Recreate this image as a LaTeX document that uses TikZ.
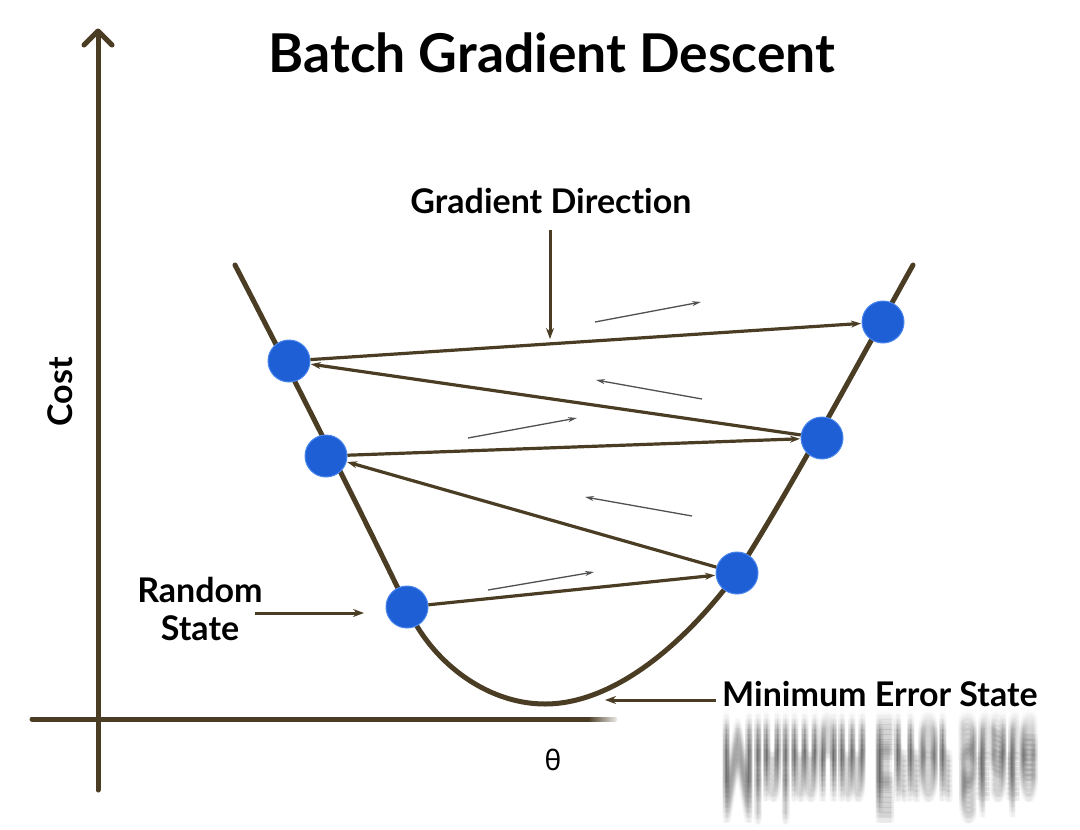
\documentclass[tikz,border=0pt]{standalone}
\usepackage{fontspec}
\setmainfont[Ligatures=NoCommon]{Lato}
\newfontfamily\greekfont{Noto Sans}
\usetikzlibrary{arrows.meta,fadings}
\definecolor{axisc}{HTML}{4A3D24}
\definecolor{dotc}{HTML}{1E5FD6}
\definecolor{dotb}{HTML}{4A86EE}
\definecolor{hintc}{HTML}{505050}
\begin{document}
\begin{tikzpicture}[x=1pt,y=-1pt,
  dot/.style={circle,fill=dotc,draw=dotb,line width=1pt,minimum size=42pt,inner sep=0pt},
  lbl/.style={font=\fontsize{34}{40}\selectfont\bfseries,text=black,inner sep=0pt},
  jump/.style={draw=axisc,line width=3.2pt,-{Stealth[length=10pt,width=7pt]},shorten >=0.5pt},
  hint/.style={draw=hintc,line width=1.3pt,-{Stealth[length=9pt,width=5pt]}},
  pointer/.style={draw=axisc,line width=3pt,-{Stealth[length=11pt,width=8pt]}}
]
\useasboundingbox (0,0) rectangle (1080,830);

% axes
\draw[axisc,line width=5pt,line cap=round] (98,790) -- (98,32);
\draw[axisc,line width=5pt,line cap=round,line join=round] (84,45) -- (98,31) -- (112,45);
\draw[axisc,line width=5pt,line cap=round] (32,719) -- (615,719);
\fill[white,path fading=west] (588,710) rectangle (620,728);

% title and axis labels
\node[font=\fontsize{53.5}{60}\selectfont\bfseries,anchor=base] (title) at (552,72) {Batch Gradient Descent};
\node[lbl,rotate=90] (cost) at (60,392) {Cost};
\node[font=\greekfont\fontsize{28}{32}\selectfont,inner sep=0pt] (theta) at (553,760) {θ};

% cost curve
\draw[axisc,line width=5pt,line cap=round]
  (235,265) .. controls (300,390) and (370,530) .. (407,607)
  .. controls (430,660) and (485,704) .. (545,704)
  .. controls (610,704) and (680,650) .. (737,573)
  .. controls (790,490) and (860,360) .. (913,265);

% states
\node[dot] (A) at (289,361) {};
\node[dot] (B) at (326,456) {};
\node[dot] (C) at (407,607) {};
\node[dot] (D) at (737,573) {};
\node[dot] (E) at (822,438) {};
\node[dot] (F) at (883,322) {};

\draw[jump] (C) -- (D);
\draw[jump] (D) -- (B);
\draw[jump] (B) -- (E);
\draw[jump] (E) -- (A);
\draw[jump] (A) -- (F);

% direction hints
\coordinate (h1a) at (488,590); \coordinate (h1b) at (594,572);
\coordinate (h2a) at (692,516); \coordinate (h2b) at (585,497);
\coordinate (h3a) at (468,438); \coordinate (h3b) at (577,418);
\coordinate (h4a) at (702,399); \coordinate (h4b) at (596,380);
\coordinate (h5a) at (595,322); \coordinate (h5b) at (701,302);
\draw[hint] (h1a) -- (h1b);
\draw[hint] (h2a) -- (h2b);
\draw[hint] (h3a) -- (h3b);
\draw[hint] (h4a) -- (h4b);
\draw[hint] (h5a) -- (h5b);

% labels with pointers
\node[lbl,anchor=base] (gd) at (551,213) {Gradient Direction};
\coordinate (gdtip) at (550,339);
\draw[pointer] (550,230) -- (gdtip);

\node[lbl,align=center,font=\fontsize{34}{38}\selectfont\bfseries] (rs) at (200,609) {Random\\State};
\coordinate (rsa) at (255,613); \coordinate (rsb) at (364,613);
\draw[pointer] (rsa) -- (rsb);

\node[lbl,anchor=base west] (me) at (722,706) {Minimum Error State};
\coordinate (mea) at (716,700); \coordinate (meb) at (605,700);
\draw[pointer] (mea) -- (meb);

% blurred reflection under the label
\foreach \dy in {0,5,...,40}{
  \foreach \dx in {-1.5,0,1.5}{
    \node[font=\fontsize{34}{40}\selectfont\bfseries,text=black,opacity=0.033,anchor=base west,inner sep=0pt,yscale=-3,transform shape] (mer\dx\dy) at (722+\dx,709+\dy) {Minimum Error State};
  }
}
\fill[white,path fading=south] (700,708) rectangle (1060,728);
\end{tikzpicture}
\end{document}
